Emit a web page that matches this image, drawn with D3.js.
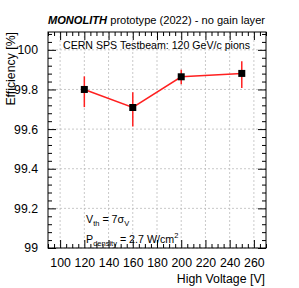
<!DOCTYPE html>
<html>
<head>
<meta charset="utf-8">
<script src="https://cdn.jsdelivr.net/npm/d3@7"></script>
<style>
  body { margin: 0; background: #fff; }
  text { font-family: "Liberation Sans", Arial, sans-serif; }
</style>
</head>
<body>
<div id="chart"></div>
<script>
// data
const voltages = [120, 160, 200, 250];
const efficiency = [99.80, 99.709, 99.864, 99.881];
const errUp = [0.066, 0.077, 0.035, 0.061];
const errDown = [0.089, 0.096, 0.038, 0.073];
const xTicks = [100, 120, 140, 160, 180, 200, 220, 240, 260];
const yTicks = [99, 99.2, 99.4, 99.6, 99.8, 100];

const width = 299, height = 288;
const margin = { top: 32, right: 33, bottom: 40, left: 48 };
const w = width - margin.left - margin.right;
const h = height - margin.top - margin.bottom;

const svg = d3.select('#chart').append('svg')
    .attr('width', width)
    .attr('height', height);

const g = svg.append('g')
    .attr('transform', `translate(${margin.left}, ${margin.top})`);

// scales
const x = d3.scaleLinear().domain([90, 270]).range([0, w]);
const y = d3.scaleLinear().domain([99, 100.09]).range([h, 0]);

// grid
g.append('g').selectAll('line').data(xTicks).join('line')
    .attr('x1', d => x(d)).attr('x2', d => x(d))
    .attr('y1', 0).attr('y2', h)
    .attr('stroke', '#bbb').attr('stroke-dasharray', '2,2').attr('stroke-width', 0.8);
g.append('g').selectAll('line').data(yTicks).join('line')
    .attr('x1', 0).attr('x2', w)
    .attr('y1', d => y(d)).attr('y2', d => y(d))
    .attr('stroke', '#bbb').attr('stroke-dasharray', '2,2').attr('stroke-width', 0.8);

// minor ticks
const xMinor = d3.range(90, 271, 5).filter(d => !xTicks.includes(d));
const yMinor = d3.range(0, 28).map(i => +(99 + i * 0.04).toFixed(2)).filter(d => !yTicks.some(t => Math.abs(t - d) < 1e-6) && d <= 100.09);

const axes = [
    { axis: d3.axisBottom(x), tr: `translate(0,${h})`, major: xTicks, minor: xMinor, labels: true },
    { axis: d3.axisTop(x), tr: 'translate(0,0)', major: xTicks, minor: xMinor, labels: false },
    { axis: d3.axisLeft(y), tr: 'translate(0,0)', major: yTicks, minor: yMinor, labels: true },
    { axis: d3.axisRight(y), tr: `translate(${w},0)`, major: yTicks, minor: yMinor, labels: false }
];

axes.forEach(a => {
    // minor
    g.append('g').attr('transform', a.tr)
        .call(a.axis.tickValues(a.minor).tickSize(-4).tickFormat(''))
        .call(s => s.select('.domain').remove())
        .selectAll('line').attr('stroke', '#000');
    // major
    const ag = g.append('g').attr('transform', a.tr)
        .call(a.axis.tickValues(a.major).tickSize(-8).tickPadding(a.labels ? 10 : 0)
            .tickFormat(a.labels ? d3.format('') : ''));
    ag.select('.domain').remove();
    ag.selectAll('line').attr('stroke', '#000');
    ag.selectAll('text').attr('font-size', 12.3).attr('fill', '#000')
        .style('font-family', '"Liberation Sans", Arial, sans-serif');
});

// frame
g.append('rect').attr('width', w).attr('height', h)
    .attr('fill', 'none').attr('stroke', '#000').attr('stroke-width', 1);

// line
const pts = voltages.map((v, i) => ({ v, e: efficiency[i], up: errUp[i], dn: errDown[i] }));
g.append('path').datum(pts)
    .attr('fill', 'none').attr('stroke', '#ff2020').attr('stroke-width', 1.5)
    .attr('d', d3.line().x(d => x(d.v)).y(d => y(d.e)));

// error bars
g.append('g').selectAll('line').data(pts).join('line')
    .attr('x1', d => x(d.v)).attr('x2', d => x(d.v))
    .attr('y1', d => y(d.e + d.up)).attr('y2', d => y(d.e - d.dn))
    .attr('stroke', '#ff2020').attr('stroke-width', 1.5);

// markers
g.append('g').selectAll('rect').data(pts).join('rect')
    .attr('x', d => x(d.v) - 3.5).attr('y', d => y(d.e) - 3.5)
    .attr('width', 7).attr('height', 7).attr('fill', '#000');

// title
const title = svg.append('text').attr('x', 156.5).attr('y', 24)
    .attr('text-anchor', 'middle').attr('font-size', 11.1);
title.append('tspan').attr('font-weight', 'bold').attr('font-style', 'italic').text('MONOLITH');
title.append('tspan').text(' prototype (2022) - no gain layer');

svg.append('text').attr('x', 63).attr('y', 49).attr('font-size', 10.6)
    .text('CERN SPS Testbeam: 120 GeV/c pions');

// annotations
const t1 = svg.append('text').attr('x', 86).attr('y', 223).attr('font-size', 10.7);
t1.append('tspan').text('V');
t1.append('tspan').attr('font-size', 7.5).attr('dy', 3).text('th');
t1.append('tspan').attr('dy', -3).text(' = 7σ');
t1.append('tspan').attr('font-size', 7.5).attr('dy', 3).text('V');

const t2 = svg.append('text').attr('x', 86).attr('y', 243).attr('font-size', 10.7);
t2.append('tspan').text('P');
t2.append('tspan').attr('font-size', 7.5).attr('dy', 3).text('density');
t2.append('tspan').attr('dy', -3).text(' = 2.7 W/cm');
t2.append('tspan').attr('font-size', 7.5).attr('dy', -5).text('2');

// axis titles
svg.append('text').attr('x', 265).attr('y', 283).attr('text-anchor', 'end')
    .attr('font-size', 12.3).text('High Voltage [V]');
svg.append('text').attr('transform', 'translate(15,32) rotate(-90)')
    .attr('text-anchor', 'end').attr('font-size', 12.3).text('Efficiency [%]');
</script>
</body>
</html>
